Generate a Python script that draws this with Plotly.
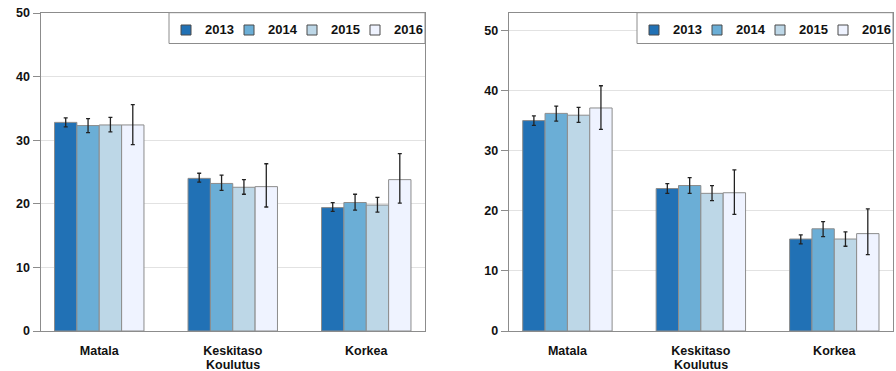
import plotly.graph_objects as go

# Education level categories and survey years
categories = ["Matala", "Keskitaso", "Korkea"]
years = ["2013", "2014", "2015", "2016"]
colors = ["#2171b5", "#6baed6", "#bdd7e7", "#eff3ff"]

# Left panel: values and confidence bounds (plus / minus)
left_2013 = [32.8, 24.0, 19.4]
left_2014 = [32.3, 23.2, 20.2]
left_2015 = [32.4, 22.6, 19.8]
left_2016 = [32.4, 22.7, 23.8]
left_plus_2013 = [0.7, 0.8, 0.8]
left_plus_2014 = [1.1, 1.3, 1.3]
left_plus_2015 = [1.2, 1.2, 1.2]
left_plus_2016 = [3.2, 3.6, 4.1]
left_minus_2013 = [0.7, 0.6, 0.6]
left_minus_2014 = [1.1, 1.1, 1.2]
left_minus_2015 = [1.1, 1.1, 1.1]
left_minus_2016 = [3.1, 3.2, 3.7]

# Right panel: values and confidence bounds (plus / minus)
right_2013 = [35.0, 23.7, 15.3]
right_2014 = [36.2, 24.2, 17.0]
right_2015 = [35.9, 22.9, 15.3]
right_2016 = [37.1, 23.0, 16.2]
right_plus_2013 = [0.8, 0.8, 0.7]
right_plus_2014 = [1.2, 1.3, 1.2]
right_plus_2015 = [1.3, 1.3, 1.2]
right_plus_2016 = [3.7, 3.8, 4.1]
right_minus_2013 = [0.8, 0.8, 0.8]
right_minus_2014 = [1.3, 1.3, 1.3]
right_minus_2015 = [1.2, 1.2, 1.2]
right_minus_2016 = [3.55, 3.6, 3.5]

left_series = [left_2013, left_2014, left_2015, left_2016]
left_plus = [left_plus_2013, left_plus_2014, left_plus_2015, left_plus_2016]
left_minus = [left_minus_2013, left_minus_2014, left_minus_2015, left_minus_2016]
right_series = [right_2013, right_2014, right_2015, right_2016]
right_plus = [right_plus_2013, right_plus_2014, right_plus_2015, right_plus_2016]
right_minus = [right_minus_2013, right_minus_2014, right_minus_2015, right_minus_2016]

FONT = "Liberation Sans, Arial, sans-serif"
EDGE = "#8c8c8c"
GRID = "#e2e2e2"

fig = go.Figure()


def add_panel(series, plus, minus, xref, yref):
    for year, color, vals, p, m in zip(years, colors, series, plus, minus):
        fig.add_trace(go.Bar(
            x=categories, y=vals, name=year, showlegend=False,
            marker=dict(color=color, line=dict(color=EDGE, width=1)),
            error_y=dict(type="data", symmetric=False, array=p, arrayminus=m,
                         color="#222222", thickness=1.3, width=2),
            xaxis=xref, yaxis=yref,
        ))


add_panel(left_series, left_plus, left_minus, "x", "y")
add_panel(right_series, right_plus, right_minus, "x2", "y2")

W, H = 896, 371
left_dom = [40.5 / W, 425 / W]
right_dom = [508.7 / W, 893 / W]
y_dom = [(H - 331) / H, (H - 13) / H]

axis_font = dict(family=FONT, size=12.5, color="#111111", weight="bold")
legend_font = dict(family=FONT, size=13, color="#111111", weight="bold")

xaxis_common = dict(
    type="category", range=[-0.44, 2.44], showline=True, mirror=True,
    linecolor=EDGE, linewidth=1, ticks="", showgrid=False,
    tickfont=axis_font, automargin=False, ticklabelstandoff=8,
    tickvals=categories, ticktext=categories,
)
yaxis_common = dict(
    showline=True, mirror=True, linecolor=EDGE, linewidth=1,
    ticks="outside", ticklen=7, tickcolor=EDGE, tickwidth=1,
    showgrid=True, gridcolor=GRID, gridwidth=1, zeroline=False,
    tickfont=axis_font, dtick=10, automargin=False,
)


# Boxed year key in the top-right corner of each panel (pixel layout -> paper)
def px(x):
    return x / W


def py(y):
    return (H - y) / H


shapes, annotations = [], []


def add_key(right_px):
    box_left = right_px - 256
    shapes.append(dict(type="rect", xref="paper", yref="paper",
                       x0=px(box_left), x1=px(right_px), y0=py(43.5), y1=py(12.7),
                       line=dict(color=EDGE, width=1), fillcolor="white", layer="above"))
    for i, (year, color) in enumerate(zip(years, colors)):
        sx = box_left + 12 + 63 * i
        shapes.append(dict(type="rect", xref="paper", yref="paper",
                           x0=px(sx), x1=px(sx + 10), y0=py(35), y1=py(25),
                           line=dict(color="#4a4a4a", width=1), fillcolor=color,
                           layer="above"))
        annotations.append(dict(text=year, xref="paper", yref="paper",
                                x=px(sx + 21.5), y=py(30), xanchor="left",
                                yanchor="middle", showarrow=False, font=legend_font))


add_key(425)
add_key(893)

# Shared x-axis title under the middle category of each panel
for xr in ("x domain", "x2 domain"):
    annotations.append(dict(text="Koulutus", xref=xr, yref="paper", x=0.5,
                            y=py(364.5), xanchor="center", yanchor="middle",
                            showarrow=False, font=axis_font))

fig.update_layout(
    width=W, height=H,
    margin=dict(l=0, r=0, t=0, b=0),
    paper_bgcolor="white", plot_bgcolor="white",
    barmode="group", bargap=0.33, bargroupgap=0,
    font=dict(family=FONT),
    showlegend=False,
    xaxis=dict(domain=left_dom, anchor="y", **xaxis_common),
    yaxis=dict(domain=y_dom, anchor="x", range=[0, 50], **yaxis_common),
    xaxis2=dict(domain=right_dom, anchor="y2", **xaxis_common),
    yaxis2=dict(domain=y_dom, anchor="x2", range=[0, 52.9], **yaxis_common),
    shapes=shapes,
    annotations=annotations,
)

fig.write_html("out.html")
